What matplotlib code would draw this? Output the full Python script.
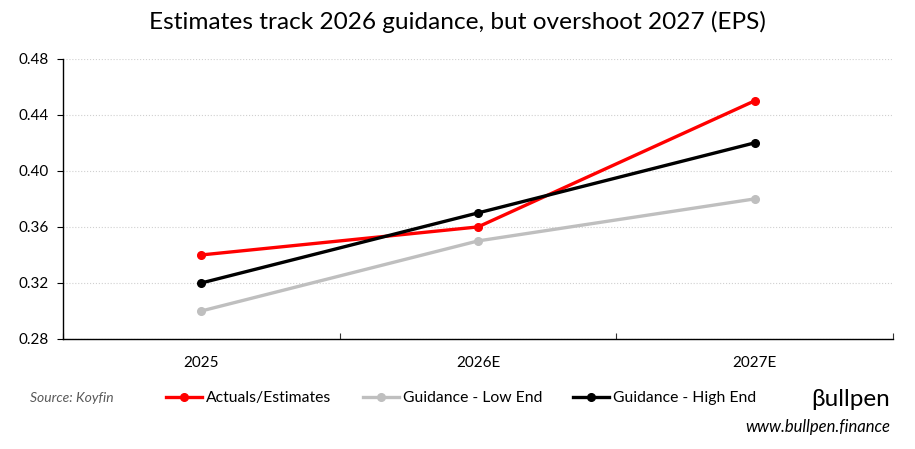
import matplotlib.pyplot as plt
import numpy as np

categories = ['2025', '2026E', '2027E']
actuals = [0.34, 0.36, 0.45]
guide_low = [0.30, 0.35, 0.38]
guide_high = [0.32, 0.37, 0.42]
y_ticks = [0.28, 0.32, 0.36, 0.40, 0.44, 0.48]

plt.rcParams['font.family'] = ['Lato', 'DejaVu Sans']

fig = plt.figure(figsize=(9.15, 4.49), dpi=100)
ax = fig.add_axes([0.0689, 0.245, 0.907, 0.624])

x = np.arange(len(categories))
ax.plot(x, actuals, color='#ff0000', lw=2.4, marker='o', ms=5.5, label='Actuals/Estimates', zorder=3)
ax.plot(x, guide_low, color='#bfbfbf', lw=2.4, marker='o', ms=5.5, label='Guidance - Low End', zorder=3)
ax.plot(x, guide_high, color='#000000', lw=2.4, marker='o', ms=5.5, label='Guidance - High End', zorder=3)

ax.set_xlim(-0.5, 2.5)
ax.set_ylim(0.28, 0.48)
ax.set_yticks(y_ticks)
ax.set_yticklabels([f'{v:.2f}' for v in y_ticks], fontsize=11)
ax.set_xticks([-0.5, 0.5, 1.5, 2.5])
ax.set_xticklabels([])
ax.set_xticks(x, minor=True)
ax.set_xticklabels(categories, minor=True, fontsize=11)
ax.tick_params(axis='x', which='minor', length=0, pad=12)
ax.tick_params(axis='x', which='major', length=4, direction='in', color='#333333')
ax.tick_params(axis='y', length=4, direction='out', pad=6)
ax.yaxis.grid(True, color='#d0d0d0', ls=':', lw=0.8)
ax.set_axisbelow(True)
for s in ['top', 'right']:
    ax.spines[s].set_visible(False)
ax.spines['left'].set_linewidth(1)
ax.spines['bottom'].set_linewidth(1)

fig.suptitle('Estimates track 2026 guidance, but overshoot 2027 (EPS)', fontsize=17.6, y=0.975)

fig.legend(loc='center', bbox_to_anchor=(0.504, 0.113), ncol=3, frameon=False,
           fontsize=11.3, handlelength=2.3, handletextpad=0.25, columnspacing=2.0)
fig.text(0.033, 0.113, 'Source: Koyfin', fontsize=10, style='italic', color='#595959', va='center')
fig.text(0.973, 0.11, 'βullpen', fontsize=17.5, ha='right', va='center')
fig.text(0.973, 0.05, 'www.bullpen.finance', fontsize=12, style='italic', ha='right', va='center')

fig.savefig('out.png', dpi=100)
plt.close(fig)
